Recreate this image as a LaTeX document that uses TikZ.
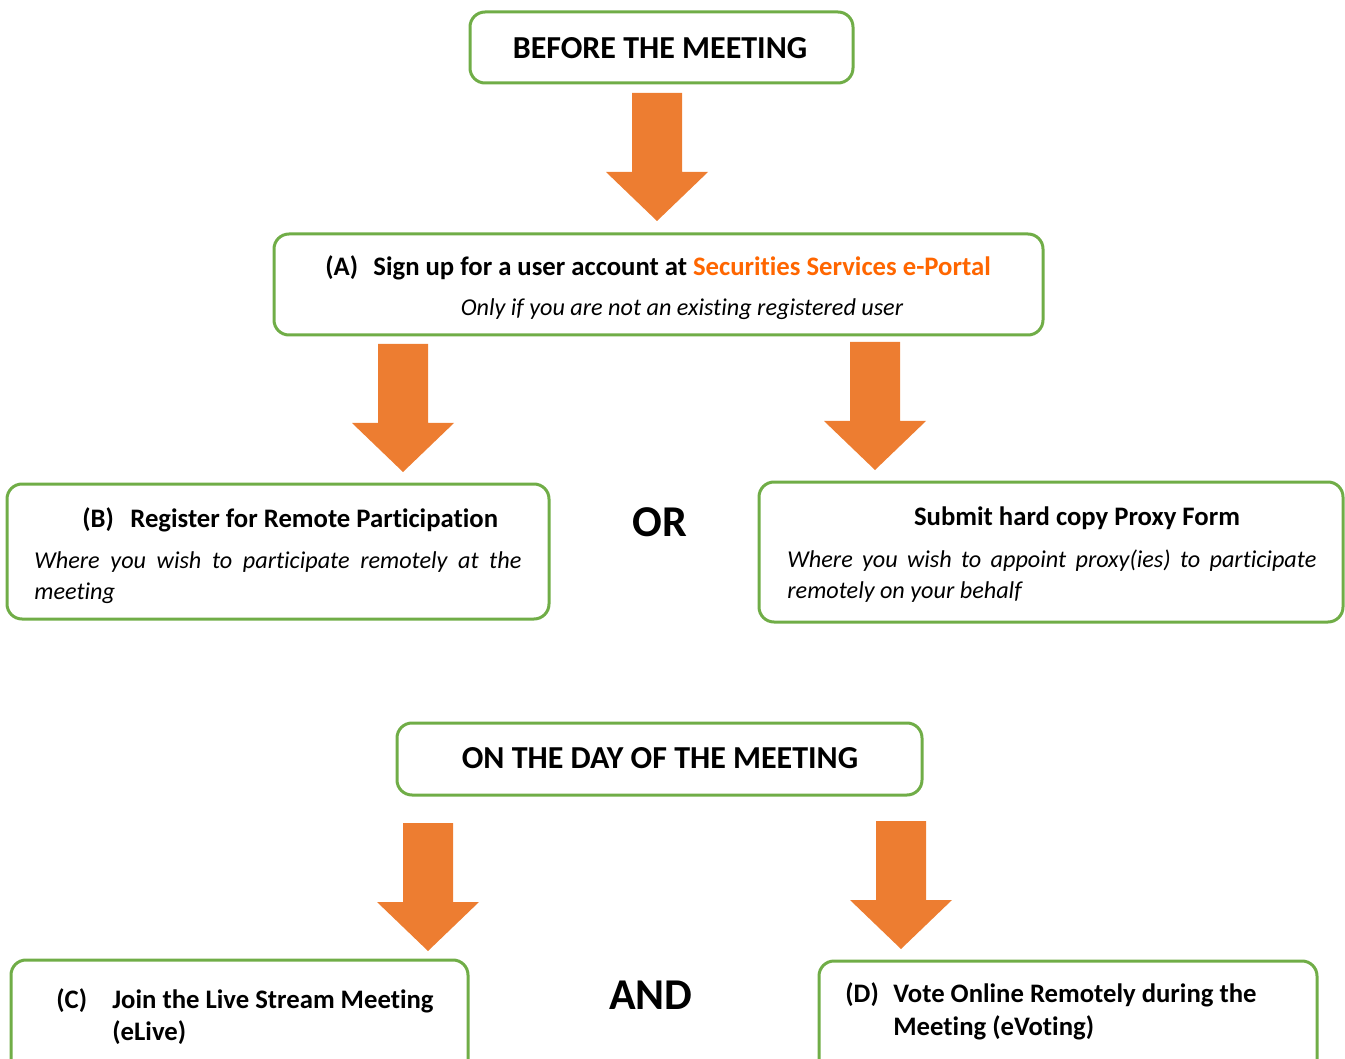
\documentclass[tikz,border=0pt]{standalone}
\usepackage{fontspec}
\setmainfont{Carlito}[Ligatures=NoCommon]
\usetikzlibrary{positioning}

\definecolor{boxgreen}{HTML}{70AD47}
\definecolor{arroworange}{HTML}{ED7D31}
\definecolor{linkorange}{HTML}{FF6600}

\tikzset{
  box/.style={draw=boxgreen, line width=1.5pt, rounded corners=7.5pt, inner sep=0pt},
  head/.style={font=\fontsize{16}{20}\selectfont\bfseries, inner sep=0pt},
  title/.style={font=\fontsize{13.35}{16}\selectfont\bfseries, inner sep=0pt},
  note/.style={font=\fontsize{12.1}{15.8}\selectfont\itshape, inner sep=0pt},
  conj/.style={font=\fontsize{22}{26}\selectfont\bfseries, inner sep=0pt}
}

\begin{document}
\begin{tikzpicture}[x=0.5pt, y=-0.5pt]
\useasboundingbox (0,0) rectangle (1345,1059);

% Boxes
\node[box, minimum width=191.5pt, minimum height=35.5pt] (before) at (661.5,47.5) {};
\node[box, minimum width=384.5pt, minimum height=50.5pt] (signup) at (658.5,284.5) {};
\node[box, minimum width=271pt, minimum height=67.5pt] (remote) at (278,551.5) {};
\node[box, minimum width=292pt, minimum height=70pt] (proxy) at (1051,552) {};
\node[box, minimum width=262.5pt, minimum height=36pt] (day) at (659.5,759) {};
\node[box, minimum width=228.5pt, minimum height=57.5pt] (live) at (239.5,1017.5) {};
\node[box, minimum width=249pt, minimum height=57pt] (vote) at (1068,1018) {};

% Block arrows
\foreach \x/\y in {657/93, 403/344, 875/342, 428/823, 901/821} {
  \fill[arroworange] (\x-25,\y) -- (\x+25,\y) -- (\x+25,\y+79) -- (\x+51,\y+79)
    -- (\x,\y+128) -- (\x-51,\y+79) -- (\x-25,\y+79) -- cycle;
}

% Headings
\node[head, anchor=base] (beforetext) at (660,59) {BEFORE THE MEETING};
\node[head, anchor=base] (daytext) at (660,768) {ON THE DAY OF THE MEETING};
\node[conj, anchor=base] (or) at (660,536) {OR};
\node[conj, anchor=base] (and) at (651,1009) {AND};

% (A)
\node[title, anchor=base west] (alabel) at (325,276) {(A)};
\node[title, anchor=base west] (atext) at (373,276) {Sign up for a user account at \textcolor{linkorange}{Securities Services e-Portal}};
\node[note, anchor=base] (anote) at (682,316) {Only if you are not an existing registered user};

% (B)
\node[title, anchor=base west] (blabel) at (82,527) {(B)};
\node[title, anchor=base west] (btext) at (130,527) {Register for Remote Participation};
\node[note, anchor=north west, text width=243.5pt, align=justify] (bnote) at (34,551)
  {Where you wish to participate remotely at the\linebreak meeting};

% Proxy
\node[title, anchor=base] (ptext) at (1077,525) {Submit hard copy Proxy Form};
\node[note, anchor=north west, text width=264.5pt, align=justify] (pnote) at (787,549)
  {Where you wish to appoint proxy(ies) to participate\linebreak remotely on your behalf};

% (C)
\node[title, anchor=base west] (clabel) at (56,1008) {(C)};
\node[title, anchor=base west] (ctext) at (112,1008) {Join the Live Stream Meeting};
\node[title, anchor=base west] (ctextb) at (112,1040) {(eLive)};

% (D)
\node[title, anchor=base west] (dlabel) at (845,1002) {(D)};
\node[title, anchor=base west] (dtext) at (893,1002) {Vote Online Remotely during the};
\node[title, anchor=base west] (dtextb) at (893,1035) {Meeting (eVoting)};

\end{tikzpicture}
\end{document}
